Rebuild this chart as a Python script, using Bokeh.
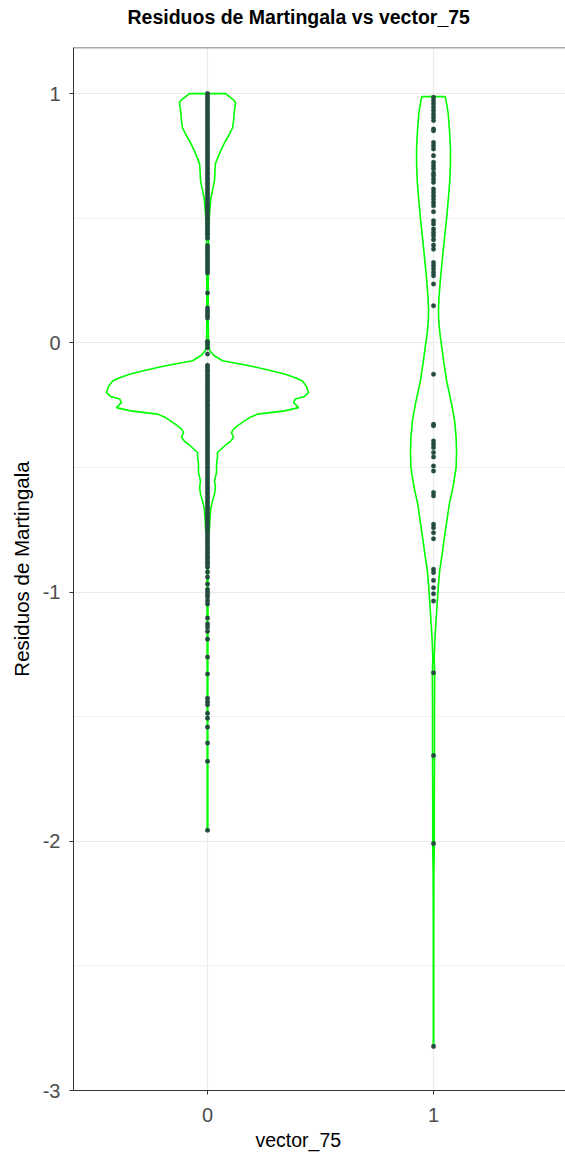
from bokeh.plotting import figure
from bokeh.models import Range1d, FixedTicker, ColumnDataSource, Span, Title
from bokeh.embed import file_html
from bokeh.resources import INLINE

# ---- data -----------------------------------------------------------------
groups = ["0", "1"]
group_pos = [0, 1]

# violin profile for vector_75 = 0: residual level and density half-width
violin0_y = [1.0, 0.975, 0.964, 0.932, 0.89, 0.863, 0.83, 0.811, 0.77, 0.719,
             0.69, 0.651, 0.62, 0.582, 0.54, 0.49, 0.45, 0.40, 0.30, 0.20,
             0.10, 0.02, -0.03, -0.05, -0.072, -0.092, -0.11, -0.125, -0.14,
             -0.153, -0.175, -0.2, -0.215, -0.225, -0.24, -0.26, -0.273,
             -0.286, -0.30, -0.313, -0.33, -0.346, -0.36, -0.38, -0.395,
             -0.407, -0.425, -0.44, -0.46, -0.486, -0.52, -0.554, -0.58,
             -0.607, -0.635, -0.662, -0.70, -0.743, -0.767, -0.80, -0.90,
             -1.0, -1.2, -1.5, -1.956]
violin0_w = [0.080, 0.115, 0.124, 0.119, 0.115, 0.111, 0.093, 0.080, 0.058,
             0.035, 0.033, 0.031, 0.024, 0.015, 0.011, 0.0066, 0.0053, 0.0044,
             0.0035, 0.0031, 0.0031, 0.004, 0.0088, 0.027, 0.066, 0.186,
             0.274, 0.341, 0.389, 0.420, 0.438, 0.447, 0.429, 0.389, 0.381,
             0.403, 0.341, 0.221, 0.186, 0.164, 0.137, 0.115, 0.106, 0.115,
             0.102, 0.084, 0.062, 0.044, 0.044, 0.040, 0.040, 0.031, 0.035,
             0.031, 0.022, 0.015, 0.011, 0.0088, 0.0044, 0.003, 0.0027,
             0.0022, 0.0018, 0.0014, 0.0014]

# violin profile for vector_75 = 1
violin1_y = [0.988, 0.95, 0.92, 0.85, 0.78, 0.719, 0.65, 0.582, 0.5, 0.45,
             0.38, 0.317, 0.25, 0.18, 0.13, 0.088, 0.04, -0.02, -0.08, -0.153,
             -0.245, -0.31, -0.38, -0.44, -0.5, -0.57, -0.647, -0.72, -0.783,
             -0.85, -0.916, -0.98, -1.05, -1.12, -1.185, -1.265, -1.33, -1.45,
             -1.66, -1.85, -2.01, -2.12, -2.4, -2.6, -2.823]
violin1_w = [0.052, 0.060, 0.065, 0.071, 0.075, 0.075, 0.072, 0.066, 0.058,
             0.052, 0.044, 0.037, 0.030, 0.024, 0.022, 0.023, 0.028, 0.037,
             0.046, 0.058, 0.080, 0.093, 0.100, 0.102, 0.100, 0.088, 0.070,
             0.058, 0.048, 0.038, 0.027, 0.021, 0.016, 0.011, 0.0066, 0.003,
             0.0053, 0.0044, 0.0044, 0.0035, 0.0035, 0.0018, 0.0009, 0.0009,
             0.0009]

# martingale residuals, vector_75 = 0
resid0 = [1.00, 0.99, 0.98, 0.97, 0.96, 0.95, 0.94, 0.93, 0.92, 0.91, 0.90,
          0.89, 0.88, 0.87, 0.86, 0.85, 0.84, 0.83, 0.82, 0.81, 0.80, 0.79,
          0.78, 0.77, 0.76, 0.75, 0.74, 0.73, 0.72, 0.71, 0.70, 0.69, 0.68,
          0.67, 0.66, 0.65, 0.64, 0.63, 0.62, 0.61, 0.60, 0.59, 0.58, 0.57,
          0.56, 0.55, 0.54, 0.53, 0.52, 0.51, 0.50, 0.49, 0.48, 0.47, 0.46,
          0.45, 0.44, 0.43, 0.42, 0.39, 0.38, 0.37, 0.36, 0.35, 0.34, 0.33,
          0.32, 0.31, 0.30, 0.29, 0.28, 0.20, 0.14, 0.13, 0.12, 0.11, 0.10,
          0.005, -0.005, -0.02, -0.045,
          -0.09, -0.10, -0.11, -0.12, -0.13, -0.14, -0.15, -0.16, -0.17,
          -0.18, -0.19, -0.20, -0.21, -0.22, -0.23, -0.24, -0.25, -0.26,
          -0.27, -0.28, -0.29, -0.30, -0.31, -0.32, -0.33, -0.34, -0.35,
          -0.36, -0.37, -0.38, -0.39, -0.40, -0.41, -0.42, -0.43, -0.44,
          -0.45, -0.46, -0.47, -0.48, -0.49, -0.50, -0.51, -0.52, -0.53,
          -0.54, -0.55, -0.56, -0.57, -0.58, -0.59, -0.60, -0.61, -0.62,
          -0.63, -0.64, -0.65, -0.66, -0.67, -0.68, -0.69, -0.70, -0.71,
          -0.72, -0.73, -0.74, -0.75, -0.76, -0.77, -0.78, -0.79, -0.80,
          -0.81, -0.82, -0.83, -0.84, -0.85, -0.86, -0.87, -0.88, -0.89,
          -0.90, -0.92, -0.94, -0.968, -0.99, -1.00, -1.01, -1.02, -1.035,
          -1.048, -1.104, -1.128, -1.14, -1.157, -1.189, -1.261, -1.329,
          -1.426, -1.44, -1.452, -1.486, -1.506, -1.542, -1.606, -1.679,
          -1.956]

# martingale residuals, vector_75 = 1
resid1 = [0.985, 0.972, 0.959, 0.945, 0.932, 0.918, 0.905, 0.892, 0.858,
          0.851, 0.804, 0.791, 0.778, 0.751, 0.724, 0.711, 0.698, 0.681,
          0.671, 0.657, 0.644, 0.617, 0.604, 0.590, 0.577, 0.563, 0.550,
          0.526, 0.490, 0.477, 0.457, 0.443, 0.430, 0.414, 0.392, 0.376,
          0.322, 0.309, 0.296, 0.282, 0.269, 0.236, 0.149, -0.126, -0.327,
          -0.333, -0.394, -0.407, -0.420, -0.440, -0.458, -0.494, -0.514,
          -0.601, -0.614, -0.728, -0.742, -0.762, -0.786, -0.909, -0.922,
          -0.953, -0.983, -1.007, -1.036, -1.324, -1.656, -2.009, -2.823]

y_ticks = [-3, -2, -1, 0, 1]
y_tick_labels = ["-3", "-2", "-1", "0", "1"]
y_minor = [-2.5, -1.5, -0.5, 0.5]
y_top = 1.185

FONT = "Liberation Sans"
GRID = "#EBEBEB"

# ---- figure ---------------------------------------------------------------
p = figure(width=565, height=1160,
           x_range=Range1d(-0.593, 1.584), y_range=Range1d(-3.0, y_top),
           output_backend="svg", toolbar_location=None,
           min_border_left=73, min_border_right=0,
           min_border_top=47, min_border_bottom=70)

p.background_fill_color = "white"
p.border_fill_color = "white"
p.outline_line_color = None

# grids
p.xgrid.ticker = FixedTicker(ticks=group_pos)
p.xgrid.grid_line_color = GRID
p.xgrid.grid_line_width = 1.2
p.ygrid.ticker = FixedTicker(ticks=y_ticks, minor_ticks=y_minor)
p.ygrid.grid_line_color = GRID
p.ygrid.grid_line_width = 1.2
p.ygrid.minor_grid_line_color = GRID
p.ygrid.minor_grid_line_width = 0.7

# axes
p.xaxis.ticker = FixedTicker(ticks=group_pos)
p.xaxis.major_label_overrides = {pos: g for pos, g in zip(group_pos, groups)}
p.yaxis.ticker = FixedTicker(ticks=y_ticks, minor_ticks=y_minor)
p.yaxis.major_label_overrides = {t: s for t, s in zip(y_ticks, y_tick_labels)}
p.yaxis.axis_label = "Residuos de Martingala"
for ax in (p.xaxis[0], p.yaxis[0]):
    ax.axis_line_color = "#333333"
    ax.major_tick_line_color = "#333333"
    ax.major_tick_out = 4
    ax.major_tick_in = 0
    ax.minor_tick_line_color = None
    ax.major_label_text_font = FONT
    ax.major_label_text_font_size = "20px"
    ax.major_label_text_color = "#4D4D4D"
    ax.axis_label_text_font = FONT
    ax.axis_label_text_font_size = "20.5px"
    ax.axis_label_text_font_style = "normal"
    ax.axis_label_text_color = "black"
p.xaxis.major_label_standoff = 13
p.yaxis.major_label_standoff = 9
p.yaxis.axis_label_standoff = 7

# top border of the panel (no right border)
p.add_layout(Span(location=y_top, dimension="width", line_color="#555555",
                  line_width=1.6))

# chart title (a blank second line lifts the heading away from the panel)
p.add_layout(Title(text="Residuos de Martingala vs vector_75\n ", align="left",
                   offset=54, standoff=0, text_line_height=0.9,
                   text_font=FONT, text_font_style="bold",
                   text_font_size="19.5px", text_color="black"), "above")

# x axis title
p.add_layout(Title(text="vector_75", align="left", offset=182, standoff=4,
                   text_font=FONT, text_font_style="normal",
                   text_font_size="19.5px", text_color="black"), "below")

# violins: mirrored density outline around each group position
profiles = [(violin0_y, violin0_w), (violin1_y, violin1_w)]
for pos, (vy, vw) in zip(group_pos, profiles):
    xs = [pos + w for w in vw] + [pos - w for w in reversed(vw)]
    ys = list(vy) + list(reversed(vy))
    p.patch(xs, ys, fill_color="white", fill_alpha=0.0,
            line_color="#00FF00", line_width=1.6)

# residual points
for pos, vals in zip(group_pos, [resid0, resid1]):
    src = ColumnDataSource(dict(x=[pos] * len(vals), y=vals))
    p.scatter("x", "y", source=src, size=4.6, fill_color="#234B40",
              line_color="#234B40", line_width=0.3)

open("out.html", "w").write(file_html(p, INLINE))
